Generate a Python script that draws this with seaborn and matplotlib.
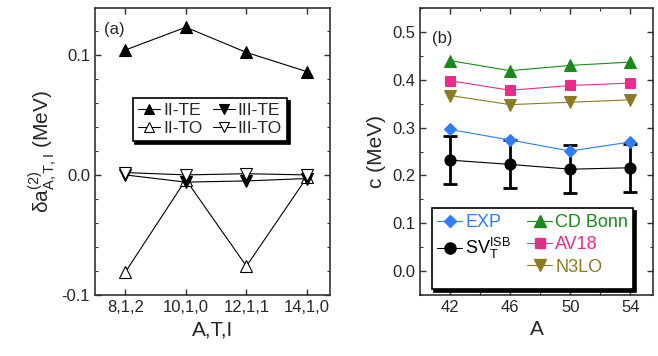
import numpy as np
import pandas as pd
import matplotlib
matplotlib.use("Agg")
import matplotlib.pyplot as plt
import seaborn as sns
from matplotlib.lines import Line2D
from matplotlib.ticker import MultipleLocator, FormatStrFormatter

# --- panel (a) data ---
atl_labels = ["8,1,2", "10,1,0", "12,1,1", "14,1,0"]
ii_te = [0.104, 0.123, 0.102, 0.086]
iii_te = [0.000, -0.006, -0.005, -0.003]
ii_to = [-0.081, -0.004, -0.076, -0.002]
iii_to = [0.002, 0.000, 0.001, 0.000]

# --- panel (b) data ---
mass_a = [42, 46, 50, 54]
exp_c = [0.296, 0.274, 0.251, 0.270]
sv_c = [0.232, 0.223, 0.213, 0.216]
sv_err = [0.050, 0.050, 0.050, 0.050]
cdbonn_c = [0.440, 0.419, 0.430, 0.437]
av18_c = [0.398, 0.378, 0.388, 0.393]
n3lo_c = [0.367, 0.348, 0.353, 0.358]

sns.set_theme(style="ticks")
plt.rcParams["font.family"] = ["Liberation Sans", "DejaVu Sans"]
plt.rcParams["mathtext.fontset"] = "custom"
plt.rcParams["mathtext.rm"] = "Liberation Sans"
plt.rcParams["mathtext.it"] = "Liberation Sans"
plt.rcParams["mathtext.default"] = "regular"
plt.rcParams["axes.unicode_minus"] = False

fig = plt.figure(figsize=(6.58, 3.56), dpi=100)
ax1 = fig.add_axes([95 / 658, 61 / 356, 235 / 658, 287 / 356])
ax2 = fig.add_axes([420 / 658, 61 / 356, 233 / 658, 287 / 356])

# ---- panel (a) ----
pos = np.arange(len(atl_labels))
df_a = pd.DataFrame({"x": pos, "II-TE": ii_te, "III-TE": iii_te,
                     "II-TO": ii_to, "III-TO": iii_to})
styles_a = [("II-TE", "^", "black"), ("II-TO", "^", "white"),
            ("III-TE", "v", "black"), ("III-TO", "v", "white")]
for name, mk, fc in styles_a:
    sns.lineplot(data=df_a, x="x", y=name, ax=ax1, color="black", lw=0.8,
                 marker=mk, markersize=8, markerfacecolor=fc,
                 markeredgecolor="black", markeredgewidth=0.8, label=name)

ax1.set_xlim(-0.5, 3.38)
ax1.set_ylim(-0.1, 0.139)
ax1.set_xticks(pos)
ax1.set_xticklabels(atl_labels)
ax1.yaxis.set_major_locator(MultipleLocator(0.1))
ax1.yaxis.set_minor_locator(MultipleLocator(0.02))
ax1.yaxis.set_major_formatter(FormatStrFormatter("%.1f"))
ax1.set_xlabel("A,T,I", fontsize=15)
ax1.set_ylabel(r"$\delta a^{(2)}_{A,T,I}$ (MeV)", fontsize=15, labelpad=2)
ax1.text(0.04, 0.95, "(a)", transform=ax1.transAxes, fontsize=12,
         ha="left", va="top")
leg1 = ax1.legend(ncol=2, loc="upper left", bbox_to_anchor=(0.16, 0.686),
                  fontsize=12.5, frameon=True, fancybox=False,
                  shadow={"color": "black", "alpha": 1}, markerscale=0.9,
                  handlelength=1.3, handletextpad=0.15, columnspacing=0.6,
                  labelspacing=0.15, borderpad=0.3, borderaxespad=0)
leg1.get_frame().set_edgecolor("black")
leg1.get_frame().set_linewidth(1.2)
leg1.get_frame().set_alpha(1)

# ---- panel (b) ----
df_b = pd.DataFrame({"A": mass_a, "EXP": exp_c, "SV": sv_c,
                     "CD Bonn": cdbonn_c, "AV18": av18_c, "N3LO": n3lo_c})
ax2.errorbar(mass_a, sv_c, yerr=sv_err, fmt="none", ecolor="black",
             elinewidth=2, capsize=5, capthick=2, zorder=3)
series_b = [("CD Bonn", "^", "#1a8a1a", 8),
            ("AV18", "s", "#ee2a8a", 6.5),
            ("N3LO", "v", "#8b7a22", 8),
            ("EXP", "D", "#2f7cf6", 6.5),
            ("SV", "o", "black", 8)]
handles = {}
for name, mk, col, ms in series_b:
    sns.lineplot(data=df_b, x="A", y=name, ax=ax2, color=col, lw=0.8,
                 marker=mk, markersize=ms, markerfacecolor=col,
                 markeredgecolor=col, zorder=4)
    handles[name] = Line2D([], [], color=col, lw=0.8, marker=mk,
                           markersize=ms, markerfacecolor=col,
                           markeredgecolor=col)

ax2.set_xlim(40, 55.5)
ax2.set_ylim(-0.05, 0.55)
ax2.set_xticks(mass_a)
ax2.xaxis.set_minor_locator(MultipleLocator(2))
ax2.yaxis.set_major_locator(MultipleLocator(0.1))
ax2.yaxis.set_minor_locator(MultipleLocator(0.05))
ax2.yaxis.set_major_formatter(FormatStrFormatter("%.1f"))
ax2.set_xlabel("A", fontsize=15)
ax2.set_ylabel("c (MeV)", fontsize=15, labelpad=4)
ax2.text(0.05, 0.92, "(b)", transform=ax2.transAxes, fontsize=12,
         ha="left", va="top")

blank = Line2D([], [], linestyle="none")
leg_h = [handles["EXP"], handles["SV"], blank,
         handles["CD Bonn"], handles["AV18"], handles["N3LO"]]
leg_l = ["EXP", r"SV$_{T}^{ISB}$", "", "CD Bonn", "AV18", "N3LO"]
leg2 = ax2.legend(leg_h, leg_l, ncol=2, loc="lower left",
                  bbox_to_anchor=(0.05, 0.02), fontsize=13, frameon=True,
                  fancybox=False, shadow={"color": "black", "alpha": 1},
                  handlelength=1.4, handletextpad=0.15, columnspacing=0.9,
                  labelspacing=0.3, borderpad=0.3, borderaxespad=0)
leg2.get_frame().set_edgecolor("black")
leg2.get_frame().set_linewidth(1.2)
leg2.get_frame().set_alpha(1)
text_cols = ["#2f7cf6", "black", "black", "#1a8a1a", "#ee2a8a", "#8b7a22"]
for t, c in zip(leg2.get_texts(), text_cols):
    t.set_color(c)

for ax in (ax1, ax2):
    ax.tick_params(which="both", direction="in", top=True, right=True,
                   labelsize=12, color="#333333")
    ax.tick_params(which="major", length=4, width=1)
    ax.tick_params(which="minor", length=2.5, width=0.8)
    for sp in ax.spines.values():
        sp.set_visible(True)
        sp.set_color("#333333")
        sp.set_linewidth(1.2)

fig.savefig("out.png", dpi=100)
